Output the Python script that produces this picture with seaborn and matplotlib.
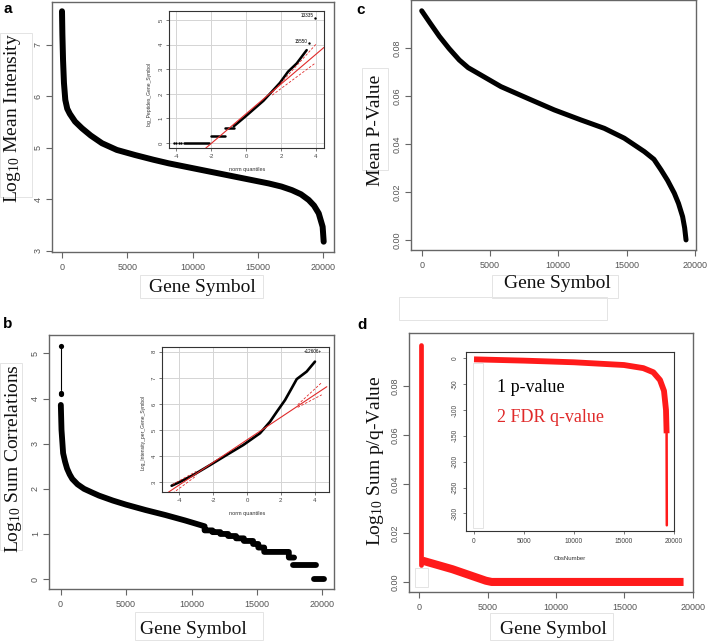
import numpy as np
import pandas as pd
import matplotlib
matplotlib.use("Agg")
import matplotlib.pyplot as plt
import seaborn as sns
from matplotlib.patches import Rectangle

# ------------------------------------------------------------------ data
gene_ticks = [0, 5000, 10000, 15000, 20000]
gene_tick_labels = ["0", "5000", "10000", "15000", "20000"]

# panel a : log10 mean intensity, ranked
a_x = [0, 30, 80, 150, 253, 400, 600, 1000, 1531, 2200, 3063, 4200, 5613, 7000,
       8170, 10720, 13270, 15830, 16800, 17610, 18300, 18890, 19300, 19660,
       19960, 20040]
a_y = [7.65, 7.2, 6.7, 6.26, 5.93, 5.76, 5.66, 5.51, 5.38, 5.24, 5.09, 4.96,
       4.86, 4.77, 4.70, 4.57, 4.44, 4.31, 4.25, 4.18, 4.1, 3.99, 3.88, 3.73,
       3.47, 3.18]
a_yticks = [3, 4, 5, 6, 7]

# inset a : QQ plot of log peptides
ia_x = [-3.56, -2.13, -1.98, -1.18, -1.18, -0.7, -0.7, 0.0, 1.0, 1.94, 2.4, 2.9, 3.47]
ia_y = [0, 0, 0.3, 0.3, 0.6, 0.6, 0.68, 1.1, 1.72, 2.45, 2.9, 3.24, 3.78]
ia_seg = [0, 0, 1, 1, 2, 2, 3, 3, 3, 3, 3, 3, 3]
ia_sparse_x = [-4.13, -4.0, -3.85, -3.7]
ia_sparse_y = [0, 0, 0, 0]
ia_out_x = [3.6, 3.95]
ia_out_y = [4.05, 5.1]
ia_out_lab = ["15550", "13335"]
ia_line_x = [-2.34, 4.46]
ia_line_y = [-0.23, 3.89]
ia_up_x = [1.5, 4.04]
ia_up_y = [2.05, 4.05]
ia_lo_x = [1.5, 3.94]
ia_lo_y = [1.95, 3.24]
ia_xticks = [-4, -2, 0, 2, 4]
ia_yticks = [0, 1, 2, 3, 4, 5]

# panel b : log10 sum correlations, ranked
b_top_x = [0, 0]
b_top_y = [5.16, 4.2]
b_dot_x = [0, 0, 60]
b_dot_y = [5.16, 4.12, 4.1]
b_x = [25, 76, 200, 350, 500, 700, 900, 1300, 1800, 2400, 2940, 4000, 5000,
       6500, 8000, 9500, 11000, 11000, 11600, 11600, 12200, 12200, 12800,
       12800, 13400, 13400, 14000, 14000, 14700, 14700, 15100, 15100, 15550,
       15550, 17430, 17430, 17830,
       17750, 19480,
       19350, 20100]
b_y = [3.86, 3.31, 2.79, 2.6, 2.45, 2.32, 2.22, 2.1, 2.0, 1.92, 1.85, 1.74,
       1.65, 1.53, 1.42, 1.3, 1.17, 1.079, 1.079, 1.041, 1.041, 1.0, 1.0,
       0.954, 0.954, 0.903, 0.903, 0.845, 0.845, 0.778, 0.778, 0.699, 0.699,
       0.602, 0.602, 0.477, 0.477,
       0.301, 0.301,
       0.0, 0.0]
b_seg = [0] * 37 + [1, 1, 2, 2]
b_yticks = [0, 1, 2, 3, 4, 5]

# inset b : QQ plot of log intensity
ib_x = [-4.46, -3.96, -3.18, -2.19, -1.2, -0.22, 0.77, 1.36, 1.76, 2.25, 2.64,
        2.94, 3.53, 4.02]
ib_y = [2.87, 3.02, 3.28, 3.66, 4.05, 4.43, 4.88, 5.32, 5.70, 6.15, 6.6, 6.95,
        7.24, 7.62]
ib_line_x = [-4.75, 4.72]
ib_line_y = [2.58, 6.66]
ib_up_x = [3.0, 4.42]
ib_up_y = [5.97, 6.82]
ib_lo_x = [3.0, 4.42]
ib_lo_y = [5.87, 6.35]
ib_upl_x = [-4.4, -3.0]
ib_upl_y = [2.92, 3.42]
ib_lol_x = [-4.4, -3.0]
ib_lol_y = [2.58, 3.25]
ib_xticks = [-4, -2, 0, 2, 4]
ib_yticks = [3, 4, 5, 6, 7, 8]

# panel c : mean p-value, ranked
c_x = [0, 600, 1300, 2000, 2750, 3400, 4100, 5800, 7760, 9700, 11660, 13370,
       14830, 16300, 17000, 17520, 18000, 18490, 18800, 19100, 19250, 19350]
c_y = [0.0955, 0.0905, 0.0848, 0.0798, 0.075, 0.0718, 0.0695, 0.0639, 0.059,
       0.0542, 0.050, 0.0465, 0.0424, 0.0368, 0.0336, 0.0292, 0.0248, 0.0195,
       0.0152, 0.0097, 0.005, 0.0]
pv_yticks = [0.0, 0.02, 0.04, 0.06, 0.08]
pv_ytick_labels = ["0.00", "0.02", "0.04", "0.06", "0.08"]

# panel d : log10 sum p/q value
d_spike_x = [150, 150]
d_spike_y = [0.0965, 0.0069]
d_x = [240, 2430, 4880, 5300, 19320]
d_y = [0.0087, 0.0052, 0.0005, 0.0, 0.0]

# inset d : ObsNumber
di_x = [0, 5000, 10000, 15000, 16930, 17930, 18600, 19000, 19200, 19260]
di_y = [-2, -4.5, -7.7, -13, -19, -27, -42, -63, -100, -145]
di_tail_x = [19260, 19280]
di_tail_y = [-145, -323]
di_xticks = [0, 5000, 10000, 15000, 20000]
di_yticks = [0, -50, -100, -150, -200, -250, -300]
di_ytick_labels = ["0", "-50", "-100", "-150", "-200", "-250", "-300"]

# ------------------------------------------------------------------ style
W, H = 708, 642
sns.set_theme(style="ticks")
plt.rcParams['font.family'] = ['Liberation Sans', 'DejaVu Sans']
plt.rcParams['mathtext.fontset'] = 'custom'
plt.rcParams['mathtext.rm'] = 'Liberation Serif'
plt.rcParams['mathtext.it'] = 'Liberation Serif:italic'

SERIF = ['Liberation Serif', 'DejaVu Serif']
TICKC = '#555555'
RED = '#ff1a1a'
LRED = '#e02a2a'

fig = plt.figure(figsize=(W / 100, H / 100), dpi=100)
fig.patch.set_facecolor('white')


def rect(x0, y0, x1, y1):
    return [x0 / W, 1 - y1 / H, (x1 - x0) / W, (y1 - y0) / H]


def ftext(x, y, s, **kw):
    fig.text(x / W, 1 - y / H, s, **kw)


def frect(x0, y0, x1, y1, color='#e4e4e4'):
    fig.patches.append(Rectangle((x0 / W, 1 - y1 / H), (x1 - x0) / W, (y1 - y0) / H,
                                 transform=fig.transFigure, fill=False,
                                 edgecolor=color, linewidth=0.7, zorder=0))


def style_main(ax, xlim, ylim, xticks, xlabels, yticks, ylabels):
    ax.set_xlim(*xlim)
    ax.set_ylim(*ylim)
    ax.set_xticks(xticks)
    ax.set_xticklabels(xlabels)
    ax.set_yticks(yticks)
    ax.set_yticklabels(ylabels, rotation=90, va='center')
    ax.tick_params(direction='out', length=4, width=0.8, color='#666666',
                   labelsize=6.5, labelcolor=TICKC, bottom=True, left=True)
    ax.tick_params(axis='x', pad=4)
    ax.tick_params(axis='y', pad=2.5)
    for s in ax.spines.values():
        s.set_visible(True)
        s.set_color('#666666')
        s.set_linewidth(1.0)
    ax.set_xlabel('')
    ax.set_ylabel('')


def style_inset(ax, xlim, ylim, xticks, xlabels, yticks, ylabels, grid=True):
    ax.set_xlim(*xlim)
    ax.set_ylim(*ylim)
    ax.set_xticks(xticks)
    ax.set_xticklabels(xlabels)
    ax.set_yticks(yticks)
    ax.set_yticklabels(ylabels, rotation=90, va='center')
    ax.tick_params(direction='out', length=2, width=0.5, color='#444444',
                   labelsize=4.3, labelcolor='#444444', pad=2, bottom=True, left=True)
    if grid:
        ax.grid(True, color='#d4d4d4', linewidth=0.7)
        ax.set_axisbelow(True)
    for s in ax.spines.values():
        s.set_visible(True)
        s.set_color('#333333')
        s.set_linewidth(0.8)
    ax.set_xlabel('')
    ax.set_ylabel('')
    ax.set_facecolor('white')


# ------------------------------------------------------------------ panel a
ax_a = fig.add_axes(rect(52, 2, 334, 252))
sns.lineplot(x=a_x, y=a_y, ax=ax_a, sort=False, estimator=None, color='black',
             linewidth=4.3, solid_capstyle='round', solid_joinstyle='round')
style_main(ax_a, (-766, 20830), (2.98, 7.83), gene_ticks, gene_tick_labels,
           a_yticks, [str(v) for v in a_yticks])

ax_ia = fig.add_axes(rect(169, 11, 324, 148))
df_ia = pd.DataFrame({'x': ia_x, 'y': ia_y, 'seg': ia_seg})
sns.lineplot(data=df_ia, x='x', y='y', units='seg', estimator=None, sort=False,
             color='black', linewidth=1.8, ax=ax_ia, legend=False)
sns.scatterplot(x=ia_sparse_x, y=ia_sparse_y, ax=ax_ia, color='black', s=3,
                marker='o', linewidth=0)
sns.scatterplot(x=ia_out_x, y=ia_out_y, ax=ax_ia, color='black', s=3,
                marker='o', linewidth=0)
for xo, yo, lab in zip(ia_out_x, ia_out_y, ia_out_lab):
    ax_ia.text(xo - 0.1, yo + 0.08, lab, fontsize=3.3, color='black',
               ha='right', va='center')
sns.lineplot(x=ia_line_x, y=ia_line_y, ax=ax_ia, color=LRED, linewidth=0.8,
             estimator=None, sort=False)
for xs, ys in ((ia_up_x, ia_up_y), (ia_lo_x, ia_lo_y)):
    sns.lineplot(x=xs, y=ys, ax=ax_ia, color=LRED, linewidth=0.6,
                 linestyle=(0, (3, 2)), estimator=None, sort=False)
style_inset(ax_ia, (-4.4, 4.46), (-0.2, 5.37), ia_xticks,
            [str(v) for v in ia_xticks], ia_yticks, [str(v) for v in ia_yticks])
ftext(247, 170, "norm quantiles", fontsize=4.0, ha='center', va='center', color='#333333')
ftext(149, 94, "log_Peptides_Gene_Symbol", fontsize=3.6, ha='center', va='center',
      rotation=90, color='#333333')

# ------------------------------------------------------------------ panel b
ax_b = fig.add_axes(rect(49, 335, 334, 589))
sns.lineplot(x=b_top_x, y=b_top_y, ax=ax_b, color='black', linewidth=0.8,
             estimator=None, sort=False)
sns.scatterplot(x=b_dot_x, y=b_dot_y, ax=ax_b, color='black', s=14, linewidth=0)
df_b = pd.DataFrame({'x': b_x, 'y': b_y, 'seg': b_seg})
sns.lineplot(data=df_b, x='x', y='y', units='seg', estimator=None, sort=False,
             color='black', linewidth=4.2, ax=ax_b, legend=False,
             solid_capstyle='round', solid_joinstyle='round')
style_main(ax_b, (-878, 20878), (-0.22, 5.41), gene_ticks, gene_tick_labels,
           b_yticks, [str(v) for v in b_yticks])

ax_ib = fig.add_axes(rect(162, 347, 329, 492))
sns.lineplot(x=ib_x, y=ib_y, ax=ax_ib, color='black', linewidth=1.9,
             estimator=None, sort=False, solid_capstyle='round')
sns.lineplot(x=ib_line_x, y=ib_line_y, ax=ax_ib, color=LRED, linewidth=0.8,
             estimator=None, sort=False)
for xs, ys in ((ib_up_x, ib_up_y), (ib_lo_x, ib_lo_y), (ib_upl_x, ib_upl_y),
               (ib_lol_x, ib_lol_y)):
    sns.lineplot(x=xs, y=ys, ax=ax_ib, color=LRED, linewidth=0.6,
                 linestyle=(0, (3, 2)), estimator=None, sort=False)
ax_ib.text(3.9, 8.0, "+12606+", fontsize=3.3, ha='center', va='center', color='black')
style_inset(ax_ib, (-5.03, 4.85), (2.63, 8.18), ib_xticks,
            [str(v) for v in ib_xticks], ib_yticks, [str(v) for v in ib_yticks])
ftext(247, 513, "norm quantiles", fontsize=4.0, ha='center', va='center', color='#333333')
ftext(143, 432, "Log_Intensity_per_Gene_Symbol", fontsize=3.6, ha='center',
      va='center', rotation=90, color='#333333')

# ------------------------------------------------------------------ panel c
ax_c = fig.add_axes(rect(411, 0, 696, 250))
sns.lineplot(x=c_x, y=c_y, ax=ax_c, sort=False, estimator=None, color='black',
             linewidth=3.6, solid_capstyle='round', solid_joinstyle='round')
style_main(ax_c, (-783, 20080), (-0.0042, 0.1), gene_ticks, gene_tick_labels,
           pv_yticks, pv_ytick_labels)

# ------------------------------------------------------------------ panel d
ax_d = fig.add_axes(rect(409, 333, 693, 592))
sns.lineplot(x=d_spike_x, y=d_spike_y, ax=ax_d, color=RED, linewidth=3.4,
             estimator=None, sort=False)
sns.lineplot(x=d_x, y=d_y, ax=ax_d, color=RED, linewidth=5.8,
             estimator=None, sort=False, solid_capstyle='butt',
             solid_joinstyle='round')
style_main(ax_d, (-740, 20010), (-0.0041, 0.1016), gene_ticks, gene_tick_labels,
           pv_yticks, pv_ytick_labels)

ax_id = fig.add_axes(rect(466, 352, 674, 531))
sns.lineplot(x=di_x, y=di_y, ax=ax_id, color=RED, linewidth=4.2,
             estimator=None, sort=False, solid_capstyle='butt',
             solid_joinstyle='round')
sns.lineplot(x=di_tail_x, y=di_tail_y, ax=ax_id, color=RED, linewidth=1.8,
             estimator=None, sort=False)
style_inset(ax_id, (-800, 20000), (-334, 12.2), di_xticks,
            [str(v) for v in di_xticks], di_yticks, di_ytick_labels, grid=False)
ax_id.tick_params(labelsize=4.8, pad=3)
ftext(570, 558, "ObsNumber", fontsize=4.3, ha='center', va='center', color='#333333')
ftext(497, 388, "1 p-value", fontsize=13, family=SERIF, ha='left', va='center',
      color='black')
ftext(497, 417, "2 FDR q-value", fontsize=13, family=SERIF, ha='left', va='center',
      color=LRED)

# ------------------------------------------------------------------ labels
lab_kw = dict(fontsize=14, family=SERIF, color='#111111', ha='center', va='center')
ftext(13, 118, r"Log$_{10}$ Mean Intensity", rotation=90, **lab_kw)
ftext(202, 287, "Gene Symbol", **lab_kw)
ftext(375, 130, "Mean P-Value", rotation=90, **lab_kw)
ftext(557, 283, "Gene Symbol", **lab_kw)
ftext(14, 459, r"Log$_{10}$ Sum Correlations", rotation=90, **lab_kw)
ftext(193, 630, "Gene Symbol", **lab_kw)
ftext(376, 461, r"Log$_{10}$ Sum p/q-Value", rotation=90, **lab_kw)
ftext(553, 630, "Gene Symbol", **lab_kw)

pan_kw = dict(fontsize=11, fontweight='bold', color='black', ha='center', va='center')
ftext(8, 9, "a", **pan_kw)
ftext(8, 324, "b", **pan_kw)
ftext(361, 10, "c", **pan_kw)
ftext(362, 325, "d", **pan_kw)

# faint pasted label boxes
for r_ in [(492, 275, 618, 298), (399, 297, 607, 320), (362, 68, 388, 170),
           (140, 275, 263, 298), (0, 33, 32, 197), (0, 363, 22, 550),
           (135, 612, 263, 640), (490, 613, 613, 640), (473, 363, 483, 528),
           (415, 568, 428, 587)]:
    frect(*r_)

fig.savefig("out.png", dpi=100, facecolor='white')
